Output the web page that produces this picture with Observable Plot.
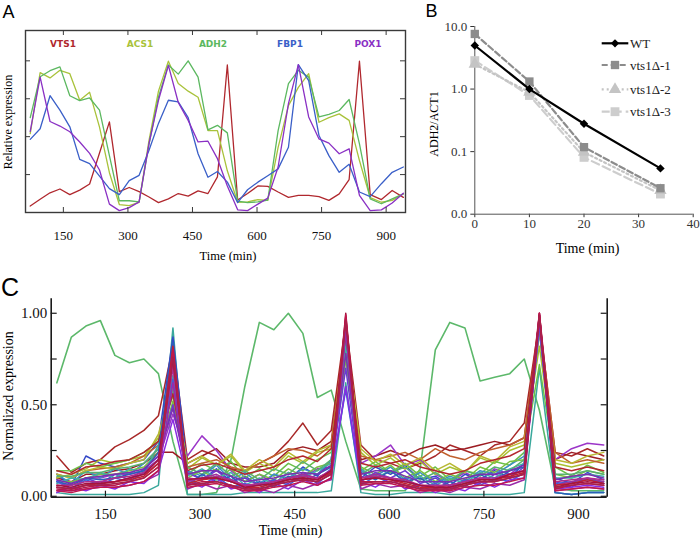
<!DOCTYPE html>
<html><head><meta charset="utf-8">
<script src="https://cdn.jsdelivr.net/npm/d3@7"></script>
<script src="https://cdn.jsdelivr.net/npm/@observablehq/plot@0.6"></script>
<style>
body{margin:0;background:#fff;}
#root{position:relative;width:700px;height:538px;overflow:hidden;background:#fff;}
</style></head><body><div id="root"></div>
<script>
// ---------- shared time axis (min) ----------
const times = [73,96,119,142,165,188,211,234,257,280,303,326,349,371,394,417,440,463,486,508,531,555,578,602,625,649,673,696,720,744,767,791,814,838,863,889,914,940];
const timeTicks = [150,300,450,600,750,900];

// ---------- Panel A ----------
const genesA = ["VTS1","ACS1","ADH2","FBP1","POX1"];
const colorsA = ["#b0282e","#a9c23a","#5cb860","#3a5fc8","#8a30c4"];
const vts1A = [0.17,0.35,0.52,0.62,0.47,0.59,0.75,1.57,2.39,0.55,0.66,0.55,0.41,0.26,0.36,0.5,0.43,0.57,0.5,0.94,3.89,0.33,0.5,0.7,0.69,0.54,0.4,0.45,0.45,0.42,0.32,0.49,0.87,3.99,0.47,0.34,0.58,0.4];
const acs1A = [2.08,3.69,3.55,3.75,3.66,2.96,3.17,2.25,1.05,0.21,0.18,0.27,1.9,3.2,3.99,3.4,3.2,3.04,2.16,2.16,1.1,0.27,0.28,0.34,0.32,1.72,2.82,3.3,3.66,2.38,2.5,2.6,2.43,1.37,0.39,0.27,0.32,0.49];
const adh2A = [2.5,3.58,3.74,3.84,3.08,2.95,3.02,2.7,1.5,0.31,0.31,0.28,1.8,3.05,3.89,3.65,4.0,3.57,2.18,2.3,2.1,0.3,0.26,0.28,0.33,2.16,3.4,3.75,3.57,2.52,2.59,2.69,2.98,1.81,0.36,0.23,0.36,0.49];
const fbp1A = [1.93,2.21,3.08,2.7,2.26,1.4,1.29,0.96,0.63,0.47,0.84,0.98,1.64,2.35,2.96,2.92,2.5,1.55,0.93,1.08,0.8,0.26,0.6,0.8,0.97,1.15,1.72,3.9,3.48,2.03,1.5,1.06,1.27,0.54,0.42,0.76,1.06,1.2];
const pox1A = [2.14,3.57,2.4,2.28,2.13,1.86,1.56,1.12,0.22,0.05,0.13,0.28,1.82,2.96,3.88,2.9,2.43,1.86,1.88,1.42,0.7,0.07,0.05,0.22,0.38,1.2,2.87,3.9,2.52,1.94,1.83,1.55,1.68,0.45,0.05,0.07,0.25,0.51];
const seriesA = [vts1A, acs1A, adh2A, fbp1A, pox1A];
const aYTicks = [1,2,3,4];

// ---------- Panel B ----------
const bTimes = [0,10,20,34];
const bStrains = ["WT","vts1\u0394-1","vts1\u0394-2","vts1\u0394-3"];
const wtB = [4.97,1.0,0.279,0.054];
const d1B = [7.6,1.32,0.118,0.026];
const d2B = [2.5,0.89,0.098,0.024];
const d3B = [2.85,0.79,0.081,0.021];
const seriesB = [wtB, d1B, d2B, d3B];
const bXTicks = [0,10,20,30,40];
const bYTicks = [0.01,0.1,1,10];

// ---------- Panel C ----------
const cYTicks = [0,0.5,1];
const cMinorTicks = [0,0.25,0.5,0.75,1];
const antiC = [0.62,0.87,0.93,0.96,0.77,0.73,0.75,0.67,0.3,0.01,0.01,0.02,0.2,0.6,0.95,0.91,1.0,0.89,0.54,0.58,0.3,0.04,0.03,0.03,0.03,0.15,0.8,0.95,0.92,0.63,0.65,0.67,0.75,0.47,0.05,0.03,0.03,0.03];
const cColors = ["#3aa89c","#a82828","#9c1c22","#9b35c8","#3448c8","#a8c030","#6cc04a","#c0602e","#3b8fc4","#7ac040","#b8b832","#6a3bd0","#40b0a8","#58b070","#b3262e","#2c5fb8","#4060d8","#7b2fb0","#8a2be2","#a0309a","#b02c8c","#c02030","#9a2aa8","#b8174a","#a4123e","#c0184c","#a8204a"];
// values in percent of the normalized maximum
const cSeries = [
[2,1,1,1,1,1,2,6, 92, 1,1,1,1,2,2,2,2,2,2,3, 62, 2,1,1,2,2,2,1,1,1,1,1,2, 70, 2,1,2,2],
[22,13,18,20,27,31,36,44, 82, 20,25,22,15,14,18,22,30,40,28,36, 95, 28,20,18,15,18,22,28,25,22,28,30,40, 96, 24,22,26,22],
[10,8,12,12,14,15,18,24, 24, 18,22,26,18,16,16,18,25,27,25,30, 90, 20,22,25,22,26,28,25,26,28,30,28,32, 95, 20,24,22,20],
[8,6,10,10,12,12,14,20, 45, 22,33,25,14,8,12,7,13,10,15,16, 75, 18,22,28,17,20,12,8,13,9,15,12,18, 90, 20,26,29,28],
[12,6,22,18,16,18,20,30, 87, 14,9,15,8,11,6,12,9,16,11,20, 80, 10,16,12,17,9,11,6,12,9,14,10,18, 95, 10,7,13,9],
[10,12,15,20,18,20,22,32, 60, 15,21,17,22,13,18,14,22,18,24,26, 85, 24,17,21,15,19,12,16,13,21,18,25,28, 82, 18,16,18,20],
[14,14,18,16,18,20,24,30, 55, 12,18,14,19,10,15,11,18,14,20,24, 80, 14,19,13,18,11,16,9,14,12,19,17,24, 72, 16,11,17,13],
[12,10,14,15,16,18,22,28, 65, 16,18,20,16,14,18,22,26,25,22,28, 92, 22,20,22,24,20,26,22,20,24,26,28,32, 96, 24,18,20,18],
[12,7,14,10,15,12,18,26, 58, 14,11,17,9,13,7,12,10,15,12,20, 85, 14,11,16,9,13,7,11,8,14,12,17,22, 95, 2,1,2,2],
[8,8,10,12,12,14,16,24, 52, 10,14,9,15,8,12,9,15,11,16,18, 75, 16,12,17,10,14,8,12,9,16,13,19,20, 90, 12,10,14,12],
[12,10,14,16,15,18,20,34, 62, 18,22,17,23,14,20,16,24,19,25,28, 88, 26,19,23,17,21,14,18,13,22,19,27,30, 92, 20,18,22,24],
[9,4,10,7,12,9,15,22, 50, 13,9,14,8,10,6,9,7,13,9,15, 70, 8,13,10,14,7,10,5,9,7,12,10,16, 92, 8,5,10,7],
[7,10,9,13,10,15,13,28, 66, 11,15,10,13,6,10,7,13,10,14,18, 82, 15,10,14,8,11,6,10,7,13,10,15,18, 96, 10,10,12,11],
[11,11,13,13,15,16,18,26, 58, 16,12,18,11,14,9,15,12,19,14,20, 78, 12,17,13,16,9,13,8,14,11,16,14,20, 93, 12,12,14,12],
[14,12,16,17,19,20,24,30, 56, 14,17,18,15,12,14,16,20,22,19,26, 88, 18,16,18,20,16,14,12,14,18,20,22,26, 100, 16,14,16,14],
[8,6,10,9,10,12,14,24, 84, 6,12,8,11,4,8,5,11,8,12,16, 90, 13,9,14,8,10,4,8,5,12,8,14,16, 97, 2,1,2,2],
[8,4,9,6,10,8,13,20, 64, 9,6,11,5,7,4,9,6,12,7,13, 58, 6,11,7,10,4,7,3,9,6,10,8,13, 94, 7,8,9,8],
[9,7,10,11,12,13,15,22, 48, 12,14,14,11,8,9,10,12,13,12,17, 78, 12,14,14,11,8,8,8,10,12,12,14,17, 95, 9,11,12,10],
[2,5,3,6,4,8,7,14, 42, 8,5,10,4,6,2,7,4,9,6,10, 60, 8,5,10,4,6,2,5,3,8,5,9,10, 96, 4,5,6,5],
[5,4,6,8,8,10,12,18, 70, 8,10,12,8,6,6,8,10,12,10,14, 95, 10,12,10,8,6,5,6,8,10,10,12,14, 99, 6,8,10,8],
[6,6,8,8,10,11,13,20, 72, 10,9,11,9,6,7,8,10,11,10,14, 93, 10,11,10,9,6,6,6,8,10,9,12,14, 100, 8,9,10,9],
[5,4,6,7,8,9,11,18, 82, 7,9,10,8,5,5,7,9,10,9,13, 97, 9,10,9,7,5,5,5,7,9,9,11,13, 98, 6,7,9,7],
[3,3,4,5,5,6,8,12, 62, 4,7,4,6,2,4,2,6,4,7,9, 90, 4,7,5,6,2,4,2,5,4,7,6,9, 98, 3,4,5,4],
[4,3,5,6,6,8,10,16, 78, 6,8,8,6,4,4,6,8,9,8,12, 98, 8,8,8,6,4,4,4,6,8,8,10,12, 100, 4,6,7,6],
[6,5,7,7,8,10,12,20, 75, 9,10,10,8,5,6,7,9,10,9,14, 100, 9,10,9,8,6,5,5,7,9,9,12,14, 99, 5,7,8,7],
[3,2,4,5,5,6,8,14, 80, 5,6,7,5,3,3,5,6,8,6,10, 99, 6,7,7,5,3,3,3,5,6,6,8,10, 100, 3,4,5,4],
[5,4,6,6,7,8,10,16, 76, 6,7,8,6,4,4,6,8,9,8,12, 96, 7,8,8,6,4,4,4,6,8,8,10,12, 99, 5,6,7,6]
];

// ---------- helpers ----------
const root = document.getElementById("root");
const SERIF = "'Liberation Serif','Times New Roman',serif";
const SANS = "'Liberation Sans',Arial,sans-serif";
function place(el, left, top) {
  el.style.position = "absolute"; el.style.left = left + "px"; el.style.top = top + "px";
  root.appendChild(el);
}
function label(text, x, y, o = {}) {
  const d = document.createElement("div");
  d.textContent = text;
  Object.assign(d.style, {
    position: "absolute", left: x + "px", top: y + "px",
    fontFamily: o.family || SERIF, fontSize: (o.size || 12) + "px",
    fontWeight: o.weight || "normal", color: o.color || "#000",
    lineHeight: "1", whiteSpace: "nowrap",
    transform: "translate(-50%,-50%)" + (o.rotate ? " rotate(-90deg)" : "")
  });
  root.appendChild(d);
}

// ---------- Panel A plot ----------
{
  const W = 420, H = 270, mL = 25, mR = 15, mT = 30, mB = 58;
  const iW = W - mL - mR, iH = H - mT - mB;
  const marks = seriesA.map((s, gi) =>
    Plot.line(times.map((t, i) => ({t, v: s[i]})), {x: "t", y: "v", stroke: colorsA[gi], strokeWidth: 1.3}));
  marks.push(
    Plot.frame({stroke: "#3a3a3a", strokeWidth: 1.4}),
    Plot.ruleX(timeTicks, {stroke: "#3a3a3a", insetTop: iH - 5}),
    Plot.ruleX(timeTicks, {stroke: "#3a3a3a", insetBottom: iH - 5}),
    Plot.ruleY(aYTicks, {stroke: "#3a3a3a", insetRight: iW - 5}),
    Plot.ruleY(aYTicks, {stroke: "#3a3a3a", insetLeft: iW - 5})
  );
  const svg = Plot.plot({
    width: W, height: H, marginLeft: mL, marginRight: mR, marginTop: mT, marginBottom: mB,
    x: {domain: [62, 945], ticks: timeTicks, tickSize: 0, tickPadding: 18, label: null},
    y: {domain: [0, 4.8], axis: null},
    style: {fontFamily: SERIF, fontSize: "13px", background: "transparent", color: "#111"},
    marks
  });
  place(svg, 0, 0);
  const gx = [63, 140, 213, 290, 368];
  genesA.forEach((g, i) => label(g, gx[i], 43.5, {family: "'DejaVu Sans',sans-serif", size: 9, weight: "bold", color: colorsA[i]}));
  label("Relative expression", 8, 121.5, {size: 12, rotate: true});
  label("Time (min)", 228, 255.5, {size: 12.5});
  label("A", 8.5, 11.5, {family: SANS, size: 18});
}

// ---------- Panel B plot ----------
const bStyle = [
  {stroke: "#000000", dash: null, symbol: "diamond2", r: 3.8},
  {stroke: "#8c8c8c", dash: "6,3", symbol: "square", r: 4.7},
  {stroke: "#c4c4c4", dash: "2,3", symbol: "triangle", r: 4.6},
  {stroke: "#cdcdcd", dash: "8,4", symbol: "square", r: 5}
];
{
  const W = 280, H = 270, mL = 54.3, mR = 7.3, mT = 26, mB = 56.3;
  const marks = [
    Plot.ruleX([0], {stroke: "#555", strokeWidth: 1}),
    Plot.ruleY([0.01], {stroke: "#555", strokeWidth: 1})
  ];
  [3, 2, 1, 0].forEach(k => {
    const data = bTimes.map((t, i) => ({t, v: seriesB[k][i]}));
    const st = bStyle[k];
    marks.push(Plot.line(data, {x: "t", y: "v", stroke: st.stroke, strokeWidth: 2.2, strokeDasharray: st.dash}));
    marks.push(Plot.dot(data, {x: "t", y: "v", symbol: st.symbol, r: st.r, fill: st.stroke, stroke: "none"}));
  });
  const svg = Plot.plot({
    width: W, height: H, marginLeft: mL, marginRight: mR, marginTop: mT, marginBottom: mB,
    x: {domain: [0, 40], ticks: bXTicks, tickSize: 3.5, tickPadding: 1.5, label: null},
    y: {type: "log", domain: [0.01, 10], ticks: bYTicks, tickFormat: d3.format(".1f"), tickSize: 4, tickPadding: 3.5, label: null},
    style: {fontFamily: SERIF, fontSize: "13px", background: "transparent", color: "#333"},
    marks
  });
  place(svg, 420, 0);

  // legend
  const leg = d3.create("svg").attr("width", 105).attr("height", 95);
  const rowsY = [13.3, 35, 59.3, 81.7];
  bStrains.forEach((name, k) => {
    const st = bStyle[k];
    const g = leg.append("g").attr("transform", `translate(0,${rowsY[k]})`);
    g.append("line").attr("x1", 6.7).attr("x2", 33.3).attr("y1", 0).attr("y2", 0)
      .attr("stroke", st.stroke).attr("stroke-width", 2.2).attr("stroke-dasharray", st.dash);
    const typ = st.symbol === "triangle" ? d3.symbolTriangle : d3.symbolSquare;
    const size = st.symbol === "diamond2" ? 34 : Math.PI * st.r * st.r;
    g.append("path").attr("d", d3.symbol(typ, size)())
      .attr("transform", `translate(20,0)${st.symbol === "diamond2" ? " rotate(45)" : ""}`)
      .attr("fill", st.stroke);
    g.append("text").attr("x", 35).attr("y", 0).attr("dy", "0.35em")
      .attr("font-family", SERIF).attr("font-size", 13).attr("fill", "#222").text(name);
  });
  place(leg.node(), 595, 30);
  label("ADH2/ACT1", 434, 123.5, {size: 12, rotate: true});
  label("Time (min)", 587.5, 249, {size: 14});
  label("B", 431.5, 11, {family: SANS, size: 18});
}

// ---------- Panel C plot ----------
{
  const W = 700, H = 268, mL = 50.7, mR = 93.3, mT = 28.3, mB = 41.3;
  const iW = W - mL - mR, iH = H - mT - mB;
  const x0 = 64, x1 = 945.5, y0 = -0.005;
  const marks = [];
  marks.push(Plot.line(times.map((t, i) => ({t, v: antiC[i]})), {x: "t", y: "v", stroke: "#5cb86a", strokeWidth: 1.6}));
  cSeries.forEach((s, k) => {
    marks.push(Plot.line(times.map((t, i) => ({t, v: s[i] / 100})), {x: "t", y: "v", stroke: cColors[k], strokeWidth: 1.5}));
  });
  marks.push(
    Plot.ruleX([x0, x1], {stroke: "#1a1a1a", strokeWidth: 1.6}),
    Plot.ruleY([y0], {stroke: "#1a1a1a", strokeWidth: 1.6}),
    Plot.ruleY(cMinorTicks, {stroke: "#1a1a1a", strokeWidth: 1.2, insetRight: iW - 6}),
    Plot.ruleY(cMinorTicks, {stroke: "#1a1a1a", strokeWidth: 1.2, insetLeft: iW - 6}),
    Plot.ruleX(timeTicks, {stroke: "#1a1a1a", strokeWidth: 1.2, insetTop: iH - 6})
  );
  const svg = Plot.plot({
    width: W, height: H, marginLeft: mL, marginRight: mR, marginTop: mT, marginBottom: mB,
    x: {domain: [x0, x1], ticks: timeTicks, tickSize: 0, tickPadding: 11, label: null},
    y: {domain: [y0, 1.079], ticks: cYTicks, tickFormat: d3.format(".2f"), tickSize: 0, tickPadding: 4, label: null},
    style: {fontFamily: SERIF, fontSize: "15px", background: "transparent", color: "#111"},
    marks
  });
  place(svg, 0, 270);
  label("Normalized expression", 9, 396, {size: 14, rotate: true});
  label("Time (min)", 290.5, 530.5, {size: 14});
  label("C", 10, 286.5, {family: SANS, size: 25});
}
</script></body></html>
